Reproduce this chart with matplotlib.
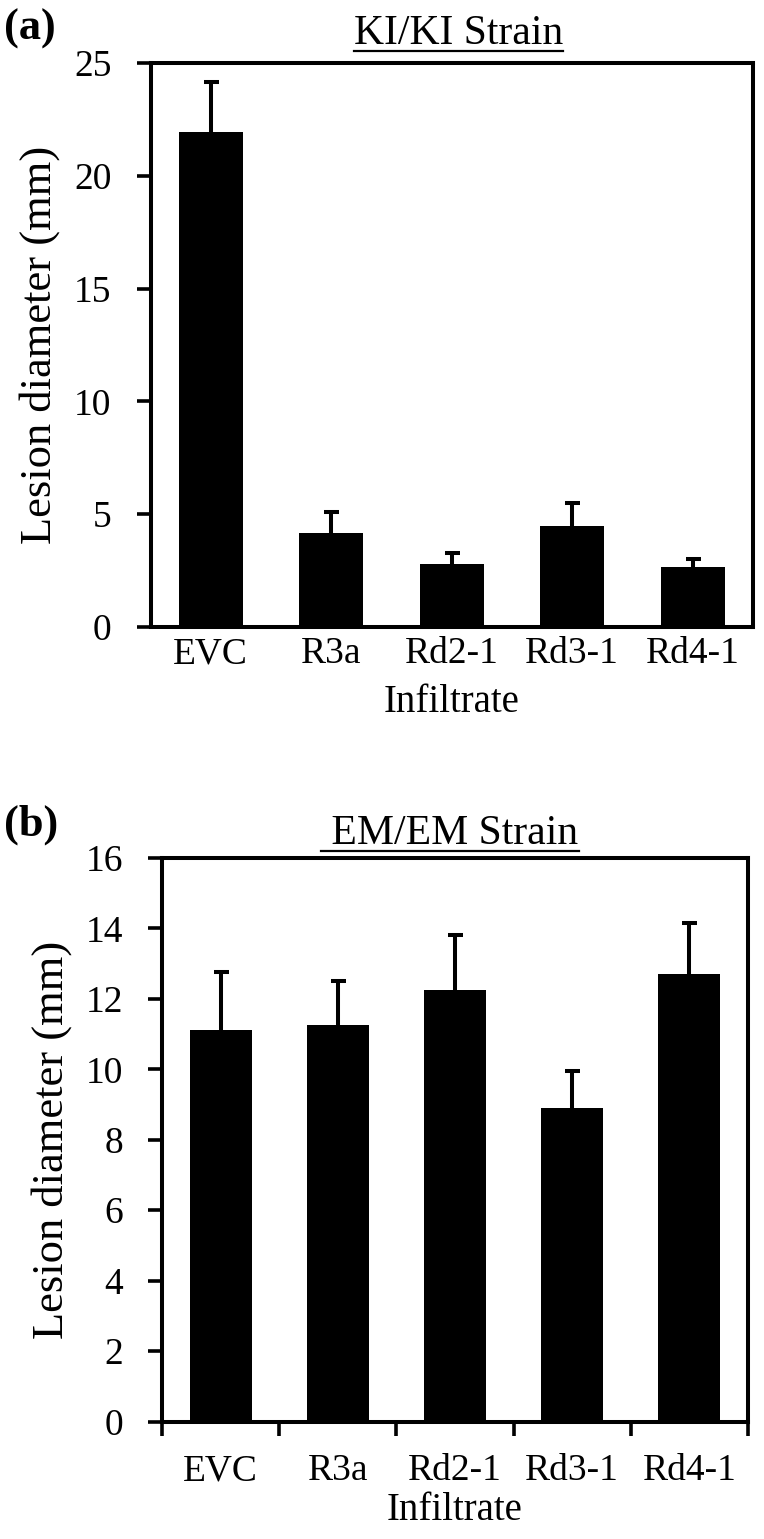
import matplotlib
matplotlib.use('Agg')
import matplotlib.pyplot as plt
from matplotlib.lines import Line2D
import numpy as np

# data
infiltrate = ['EVC', 'R3a', 'Rd2-1', 'Rd3-1', 'Rd4-1']
ki_mean = [21.94, 4.18, 2.79, 4.49, 2.67]
ki_err = [2.2, 0.92, 0.49, 1.01, 0.36]
em_mean = [11.13, 11.27, 12.25, 8.90, 12.7]
em_err = [1.62, 1.25, 1.55, 1.04, 1.45]

plt.rcParams['font.family'] = ['Liberation Serif', 'DejaVu Serif']


def panel(ax, means, errs, ymax, ystep, xticks_between):
    x = np.arange(len(infiltrate))
    ax.bar(x, means, width=0.53, color='black', zorder=2)
    eb = ax.errorbar(x, means, yerr=[np.zeros(len(errs)), errs], fmt='none',
                     ecolor='black', elinewidth=2.9, capsize=5.4, capthick=2.9, zorder=1)
    # only the upper cap is wanted
    eb[1][0].set_visible(False)
    ax.set_xlim(-0.5, len(infiltrate) - 0.5)
    ax.set_ylim(0, ymax)
    ax.set_yticks(np.arange(0, ymax + 0.1, ystep))
    for s in ax.spines.values():
        s.set_linewidth(2.9)
    ax.tick_params(axis='y', direction='out', length=10, width=2.6, labelsize=27, pad=18)
    if xticks_between:
        ax.set_xticks(np.arange(-0.5, len(infiltrate), 1.0))
        ax.set_xticklabels([])
        ax.set_xticks(x, minor=True)
        ax.set_xticklabels(infiltrate, minor=True)
        ax.tick_params(axis='x', which='major', direction='out', length=10, width=2.6)
        ax.tick_params(axis='x', which='minor', length=0, labelsize=27, pad=23)
        ax.set_xlabel('Infiltrate', fontsize=28, labelpad=3)
    else:
        ax.set_xticks(x)
        ax.set_xticklabels(infiltrate)
        ax.tick_params(axis='x', length=0, labelsize=27, pad=7)
        ax.set_xlabel('Infiltrate', fontsize=28, labelpad=9)
    ax.set_ylabel('Lesion diameter (mm)', fontsize=32, labelpad=10)


fig = plt.figure(figsize=(7.64, 15.39), dpi=100)
ax1 = fig.add_axes([0.197, 0.5926, 0.7886, 0.3665])
ax2 = fig.add_axes([0.212, 0.0763, 0.767, 0.3662])

panel(ax1, ki_mean, ki_err, 25, 5, False)
panel(ax2, em_mean, em_err, 16, 2, True)

fig.text(0.005, 0.981, '(a)', fontsize=32, fontweight='bold', va='center', ha='left')
fig.text(0.005, 0.464, '(b)', fontsize=32, fontweight='bold', va='center', ha='left')
t1 = fig.text(0.600, 0.9715, 'KI/KI Strain', fontsize=30, ha='center', va='baseline')
t2 = fig.text(0.589, 0.4515, ' EM/EM Strain', fontsize=30, ha='center', va='baseline')

# underline the titles
fig.canvas.draw()
renderer = fig.canvas.get_renderer()
for t in (t1, t2):
    bb = t.get_window_extent(renderer).transformed(fig.transFigure.inverted())
    y = t.get_position()[1] - 0.0045
    fig.add_artist(Line2D([bb.x0, bb.x1], [y, y], color='black', linewidth=1.6,
                          transform=fig.transFigure))

fig.savefig('out.png', dpi=100)
